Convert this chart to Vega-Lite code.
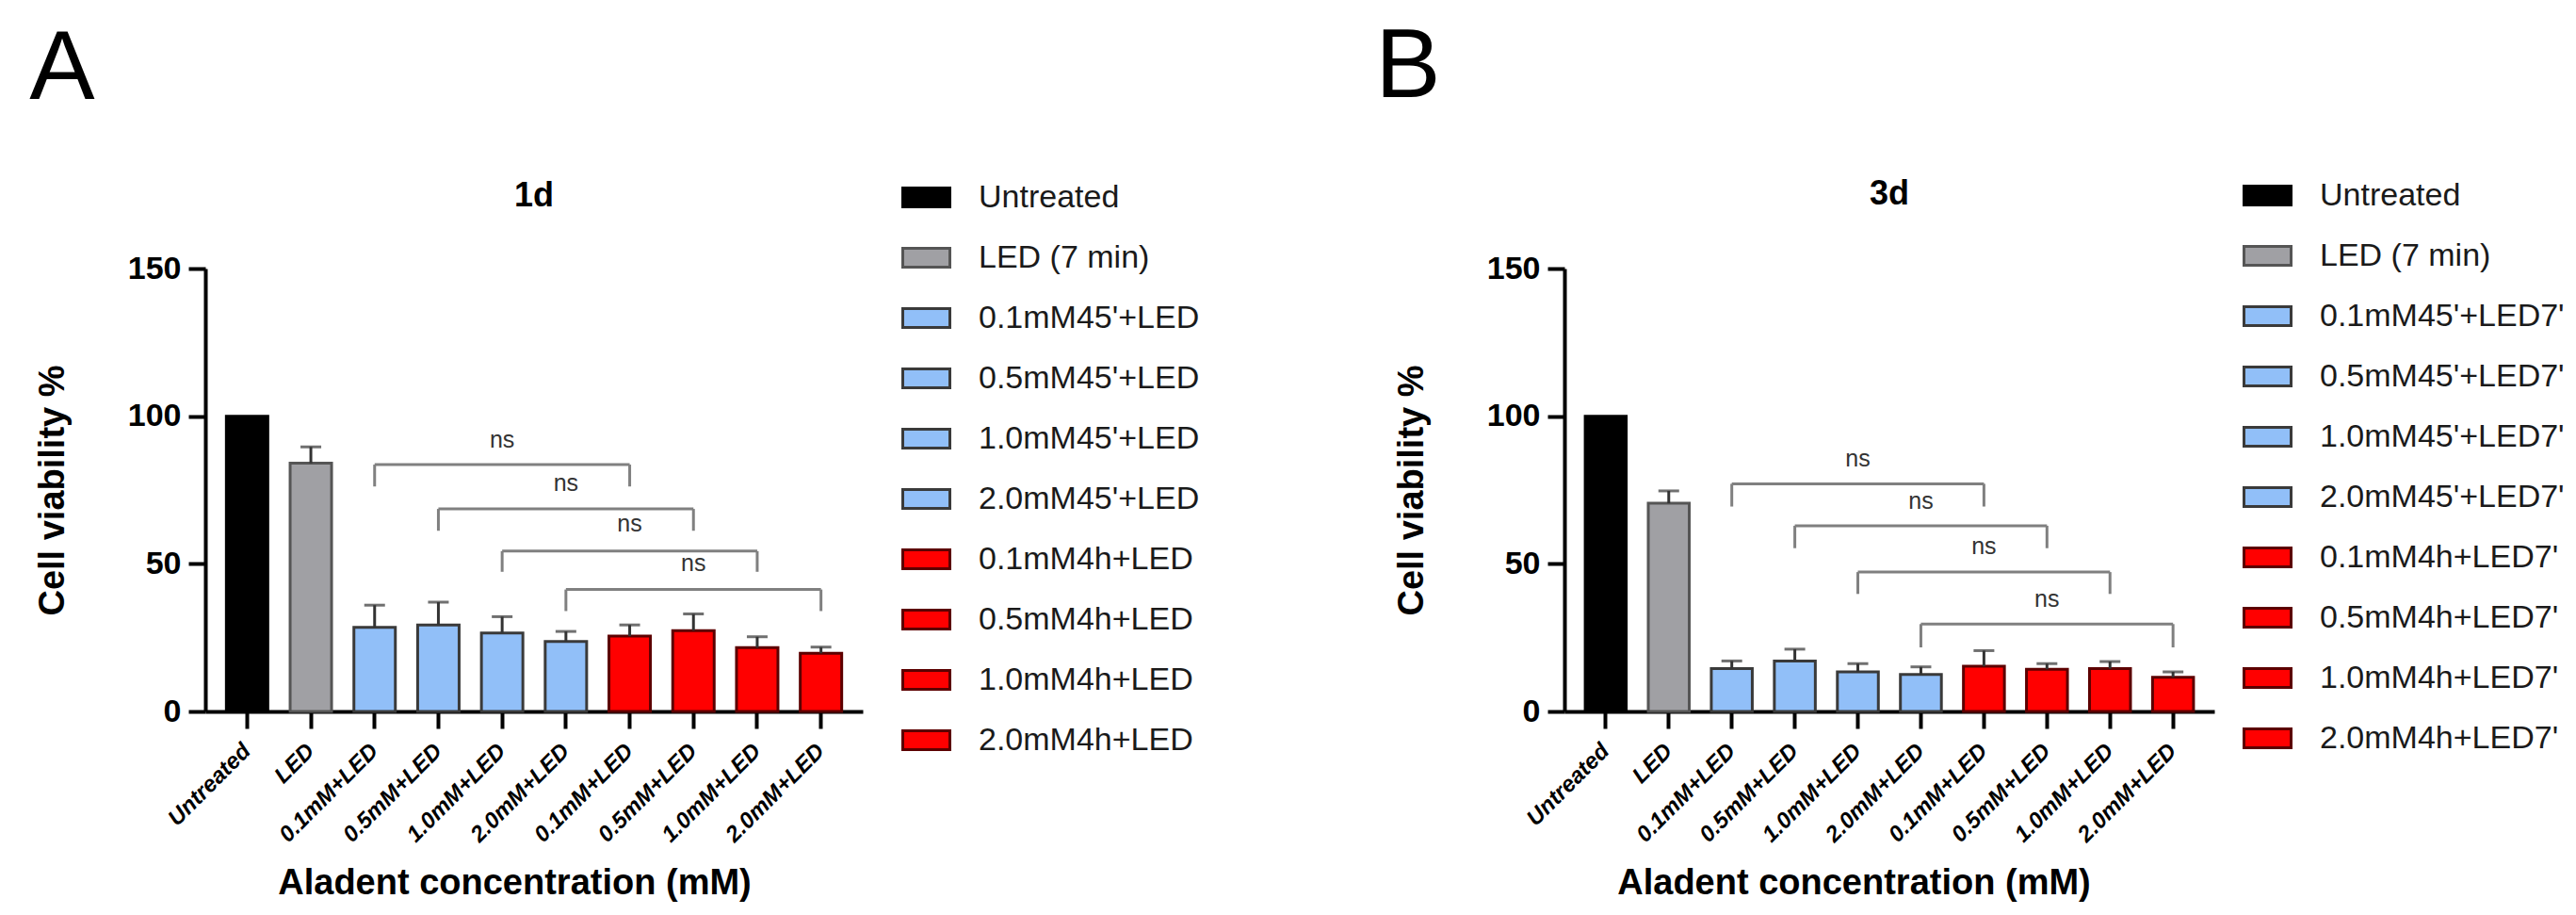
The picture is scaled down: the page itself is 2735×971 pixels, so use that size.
{
  "$schema": "https://vega.github.io/schema/vega-lite/v6.json",
  "background": "white",
  "padding": {"left": 31, "top": 20, "right": 5, "bottom": 5},
  "config": {
    "font": "Liberation Sans",
    "view": {"stroke": null},
    "axis": {"domainColor": "black", "domainWidth": 4, "tickColor": "black", "tickWidth": 4, "tickSize": 18, "grid": false, "labelFont": "Liberation Sans", "labelColor": "black", "titleColor": "black", "titleFont": "Liberation Sans", "titleFontWeight": "bold", "titleFontSize": 38},
    "legend": {"orient": "none", "title": null, "symbolType": "M-1,-0.4H1V0.4H-1Z", "symbolSize": 2500, "symbolStrokeWidth": 3, "labelFontSize": 34, "labelFont": "Liberation Sans", "labelColor": "#1a1a1a", "labelOffset": 29, "rowPadding": 20, "padding": 0, "labelLimit": 400},
    "title": {"font": "Liberation Sans", "color": "black"},
    "concat": {"spacing": 186}
  },
  "datasets": {
    "barsA": [
      {"group": "Untreated", "value": 100, "upper": null},
      {"group": "LED (7 min)", "value": 84.1, "upper": 89.6},
      {"group": "0.1mM45'+LED", "value": 28.5, "upper": 36.0},
      {"group": "0.5mM45'+LED", "value": 29.3, "upper": 37.0},
      {"group": "1.0mM45'+LED", "value": 26.6, "upper": 32.1},
      {"group": "2.0mM45'+LED", "value": 23.7, "upper": 27.1},
      {"group": "0.1mM4h+LED", "value": 25.5, "upper": 29.3},
      {"group": "0.5mM4h+LED", "value": 27.4, "upper": 33.0},
      {"group": "1.0mM4h+LED", "value": 21.6, "upper": 25.3},
      {"group": "2.0mM4h+LED", "value": 19.7, "upper": 21.8}
    ],
    "brA": [
      {"s": "0.1mM45'+LED", "e": "0.1mM4h+LED", "mid": "1.0mM45'+LED", "h": 83.6, "ns": 92.0, "label": "ns"},
      {"s": "0.5mM45'+LED", "e": "0.5mM4h+LED", "mid": "2.0mM45'+LED", "h": 68.6, "ns": 77.2, "label": "ns"},
      {"s": "1.0mM45'+LED", "e": "1.0mM4h+LED", "mid": "0.1mM4h+LED", "h": 54.3, "ns": 63.4, "label": "ns"},
      {"s": "2.0mM45'+LED", "e": "2.0mM4h+LED", "mid": "0.5mM4h+LED", "h": 41.3, "ns": 50.0, "label": "ns"}
    ],
    "legsA": [
      {"g": "0.1mM45'+LED", "top": 83.6, "low": 76.2},
      {"g": "0.1mM4h+LED", "top": 83.6, "low": 76.2},
      {"g": "0.5mM45'+LED", "top": 68.6, "low": 61.2},
      {"g": "0.5mM4h+LED", "top": 68.6, "low": 61.2},
      {"g": "1.0mM45'+LED", "top": 54.3, "low": 47.3},
      {"g": "1.0mM4h+LED", "top": 54.3, "low": 47.3},
      {"g": "2.0mM45'+LED", "top": 41.3, "low": 34.0},
      {"g": "2.0mM4h+LED", "top": 41.3, "low": 34.0}
    ],
    "barsB": [
      {"group": "Untreated", "value": 100, "upper": null},
      {"group": "LED (7 min)", "value": 70.5, "upper": 74.7},
      {"group": "0.1mM45'+LED7'", "value": 14.5, "upper": 17.1},
      {"group": "0.5mM45'+LED7'", "value": 17.1, "upper": 21.1},
      {"group": "1.0mM45'+LED7'", "value": 13.4, "upper": 16.2},
      {"group": "2.0mM45'+LED7'", "value": 12.5, "upper": 15.1},
      {"group": "0.1mM4h+LED7'", "value": 15.3, "upper": 20.6},
      {"group": "0.5mM4h+LED7'", "value": 14.3, "upper": 16.2},
      {"group": "1.0mM4h+LED7'", "value": 14.5, "upper": 16.9},
      {"group": "2.0mM4h+LED7'", "value": 11.6, "upper": 13.4}
    ],
    "brB": [
      {"s": "0.1mM45'+LED7'", "e": "0.1mM4h+LED7'", "mid": "1.0mM45'+LED7'", "h": 77.1, "ns": 85.6, "label": "ns"},
      {"s": "0.5mM45'+LED7'", "e": "0.5mM4h+LED7'", "mid": "2.0mM45'+LED7'", "h": 62.9, "ns": 71.3, "label": "ns"},
      {"s": "1.0mM45'+LED7'", "e": "1.0mM4h+LED7'", "mid": "0.1mM4h+LED7'", "h": 47.2, "ns": 56.0, "label": "ns"},
      {"s": "2.0mM45'+LED7'", "e": "2.0mM4h+LED7'", "mid": "0.5mM4h+LED7'", "h": 29.6, "ns": 38.0, "label": "ns"}
    ],
    "legsB": [
      {"g": "0.1mM45'+LED7'", "top": 77.1, "low": 69.4},
      {"g": "0.1mM4h+LED7'", "top": 77.1, "low": 69.4},
      {"g": "0.5mM45'+LED7'", "top": 62.9, "low": 55.3},
      {"g": "0.5mM4h+LED7'", "top": 62.9, "low": 55.3},
      {"g": "1.0mM45'+LED7'", "top": 47.2, "low": 39.8},
      {"g": "1.0mM4h+LED7'", "top": 47.2, "low": 39.8},
      {"g": "2.0mM45'+LED7'", "top": 29.6, "low": 21.7},
      {"g": "2.0mM4h+LED7'", "top": 29.6, "low": 21.7}
    ]
  },
  "hconcat": [
    {
      "title": {"text": "A", "fontSize": 104, "fontWeight": "normal", "anchor": "start", "offset": 56, "dx": -6},
      "resolve": {"scale": {"color": "independent", "stroke": "independent"}, "legend": {"color": "independent", "stroke": "independent"}},
      "vconcat": [
        {
          "width": 698,
          "height": 470,
          "title": {"text": "1d", "fontSize": 36, "fontWeight": "bold", "anchor": "middle", "offset": -44},
          "layer": [
            {
              "data": {"name": "barsA"},
              "mark": {"type": "bar", "strokeWidth": 3},
              "encoding": {
                "x": {"field": "group", "type": "nominal",
                  "scale": {"domain": ["Untreated", "LED (7 min)", "0.1mM45'+LED", "0.5mM45'+LED", "1.0mM45'+LED", "2.0mM45'+LED", "0.1mM4h+LED", "0.5mM4h+LED", "1.0mM4h+LED", "2.0mM4h+LED"], "paddingInner": 0.35, "paddingOuter": 0.33},
                  "axis": {"title": "Aladent concentration (mM)", "titleX": 328, "titlePadding": 20, "labelAngle": -45, "labelAlign": "right", "labelBaseline": "middle", "labelFontSize": 24, "labelFontStyle": "italic", "labelFontWeight": "bold", "labelPadding": 20, "labelLimit": 300,
                    "labelExpr": "replace(replace(replace(replace(datum.label, \"45'\", ''), '4h', ''), ' (7 min)', ''), \"7'\", '')"}},
                "y": {"field": "value", "type": "quantitative",
                  "scale": {"domain": [0, 150], "nice": false},
                  "axis": {"title": "Cell viability %", "values": [0, 50, 100, 150], "labelFontSize": 34, "labelFontWeight": "bold", "labelPadding": 8, "titlePadding": 60}},
                "color": {"field": "group", "type": "nominal",
                  "scale": {"domain": ["Untreated", "LED (7 min)", "0.1mM45'+LED", "0.5mM45'+LED", "1.0mM45'+LED", "2.0mM45'+LED", "0.1mM4h+LED", "0.5mM4h+LED", "1.0mM4h+LED", "2.0mM4h+LED"],
                    "range": ["#000000", "#A0A0A4", "#91BFF8", "#91BFF8", "#91BFF8", "#91BFF8", "#FF0000", "#FF0000", "#FF0000", "#FF0000"]},
                  "legend": {"legendX": 739, "legendY": -102}},
                "stroke": {"field": "group", "type": "nominal",
                  "scale": {"domain": ["Untreated", "LED (7 min)", "0.1mM45'+LED", "0.5mM45'+LED", "1.0mM45'+LED", "2.0mM45'+LED", "0.1mM4h+LED", "0.5mM4h+LED", "1.0mM4h+LED", "2.0mM4h+LED"],
                    "range": ["#000000", "#555555", "#3a3a3a", "#3a3a3a", "#3a3a3a", "#3a3a3a", "#5c0000", "#5c0000", "#5c0000", "#5c0000"]},
                  "legend": {"legendX": 739, "legendY": -102}}
              }
            },
            {
              "data": {"name": "barsA"},
              "transform": [{"filter": "datum.upper != null"}],
              "mark": {"type": "rule", "color": "#333333", "strokeWidth": 3},
              "encoding": {
                "x": {"field": "group", "type": "nominal"},
                "y": {"field": "value", "type": "quantitative"},
                "y2": {"field": "upper"}
              }
            },
            {
              "data": {"name": "barsA"},
              "transform": [{"filter": "datum.upper != null"}],
              "mark": {"type": "tick", "color": "#333333", "size": 22, "thickness": 3, "orient": "horizontal"},
              "encoding": {
                "x": {"field": "group", "type": "nominal"},
                "y": {"field": "upper", "type": "quantitative"}
              }
            },
            {
              "data": {"name": "brA"},
              "mark": {"type": "rule", "color": "#808080", "strokeWidth": 3},
              "encoding": {
                "x": {"field": "s", "type": "nominal"},
                "x2": {"field": "e"},
                "y": {"field": "h", "type": "quantitative"}
              }
            },
            {
              "data": {"name": "legsA"},
              "mark": {"type": "rule", "color": "#808080", "strokeWidth": 3},
              "encoding": {
                "x": {"field": "g", "type": "nominal"},
                "y": {"field": "top", "type": "quantitative"},
                "y2": {"field": "low"}
              }
            },
            {
              "data": {"name": "brA"},
              "mark": {"type": "text", "fontSize": 25, "color": "#333333", "baseline": "middle", "align": "center"},
              "encoding": {
                "x": {"field": "mid", "type": "nominal"},
                "y": {"field": "ns", "type": "quantitative"},
                "text": {"field": "label"}
              }
            }
          ]
        }
      ]
    },
    {
      "title": {"text": "B", "fontSize": 104, "fontWeight": "normal", "anchor": "start", "offset": 56, "dx": -20},
      "resolve": {"scale": {"color": "independent", "stroke": "independent"}, "legend": {"color": "independent", "stroke": "independent"}},
      "vconcat": [
        {
          "width": 690,
          "height": 470,
          "title": {"text": "3d", "fontSize": 36, "fontWeight": "bold", "anchor": "middle", "offset": -44},
          "layer": [
            {
              "data": {"name": "barsB"},
              "mark": {"type": "bar", "strokeWidth": 3},
              "encoding": {
                "x": {"field": "group", "type": "nominal",
                  "scale": {"domain": ["Untreated", "LED (7 min)", "0.1mM45'+LED7'", "0.5mM45'+LED7'", "1.0mM45'+LED7'", "2.0mM45'+LED7'", "0.1mM4h+LED7'", "0.5mM4h+LED7'", "1.0mM4h+LED7'", "2.0mM4h+LED7'"], "paddingInner": 0.35, "paddingOuter": 0.33},
                  "axis": {"title": "Aladent concentration (mM)", "titleX": 307, "titlePadding": 20, "labelAngle": -45, "labelAlign": "right", "labelBaseline": "middle", "labelFontSize": 24, "labelFontStyle": "italic", "labelFontWeight": "bold", "labelPadding": 20, "labelLimit": 300,
                    "labelExpr": "replace(replace(replace(replace(datum.label, \"45'\", ''), '4h', ''), ' (7 min)', ''), \"7'\", '')"}},
                "y": {"field": "value", "type": "quantitative",
                  "scale": {"domain": [0, 150], "nice": false},
                  "axis": {"title": "Cell viability %", "values": [0, 50, 100, 150], "labelFontSize": 34, "labelFontWeight": "bold", "labelPadding": 8, "titlePadding": 60}},
                "color": {"field": "group", "type": "nominal",
                  "scale": {"domain": ["Untreated", "LED (7 min)", "0.1mM45'+LED7'", "0.5mM45'+LED7'", "1.0mM45'+LED7'", "2.0mM45'+LED7'", "0.1mM4h+LED7'", "0.5mM4h+LED7'", "1.0mM4h+LED7'", "2.0mM4h+LED7'"],
                    "range": ["#000000", "#A0A0A4", "#91BFF8", "#91BFF8", "#91BFF8", "#91BFF8", "#FF0000", "#FF0000", "#FF0000", "#FF0000"]},
                  "legend": {"legendX": 720, "legendY": -104}},
                "stroke": {"field": "group", "type": "nominal",
                  "scale": {"domain": ["Untreated", "LED (7 min)", "0.1mM45'+LED7'", "0.5mM45'+LED7'", "1.0mM45'+LED7'", "2.0mM45'+LED7'", "0.1mM4h+LED7'", "0.5mM4h+LED7'", "1.0mM4h+LED7'", "2.0mM4h+LED7'"],
                    "range": ["#000000", "#555555", "#3a3a3a", "#3a3a3a", "#3a3a3a", "#3a3a3a", "#5c0000", "#5c0000", "#5c0000", "#5c0000"]},
                  "legend": {"legendX": 720, "legendY": -104}}
              }
            },
            {
              "data": {"name": "barsB"},
              "transform": [{"filter": "datum.upper != null"}],
              "mark": {"type": "rule", "color": "#333333", "strokeWidth": 3},
              "encoding": {
                "x": {"field": "group", "type": "nominal"},
                "y": {"field": "value", "type": "quantitative"},
                "y2": {"field": "upper"}
              }
            },
            {
              "data": {"name": "barsB"},
              "transform": [{"filter": "datum.upper != null"}],
              "mark": {"type": "tick", "color": "#333333", "size": 22, "thickness": 3, "orient": "horizontal"},
              "encoding": {
                "x": {"field": "group", "type": "nominal"},
                "y": {"field": "upper", "type": "quantitative"}
              }
            },
            {
              "data": {"name": "brB"},
              "mark": {"type": "rule", "color": "#808080", "strokeWidth": 3},
              "encoding": {
                "x": {"field": "s", "type": "nominal"},
                "x2": {"field": "e"},
                "y": {"field": "h", "type": "quantitative"}
              }
            },
            {
              "data": {"name": "legsB"},
              "mark": {"type": "rule", "color": "#808080", "strokeWidth": 3},
              "encoding": {
                "x": {"field": "g", "type": "nominal"},
                "y": {"field": "top", "type": "quantitative"},
                "y2": {"field": "low"}
              }
            },
            {
              "data": {"name": "brB"},
              "mark": {"type": "text", "fontSize": 25, "color": "#333333", "baseline": "middle", "align": "center"},
              "encoding": {
                "x": {"field": "mid", "type": "nominal"},
                "y": {"field": "ns", "type": "quantitative"},
                "text": {"field": "label"}
              }
            }
          ]
        }
      ]
    }
  ],
  "resolve": {"scale": {"x": "independent", "y": "independent", "color": "independent", "stroke": "independent"}, "legend": {"color": "independent", "stroke": "independent"}}
}
